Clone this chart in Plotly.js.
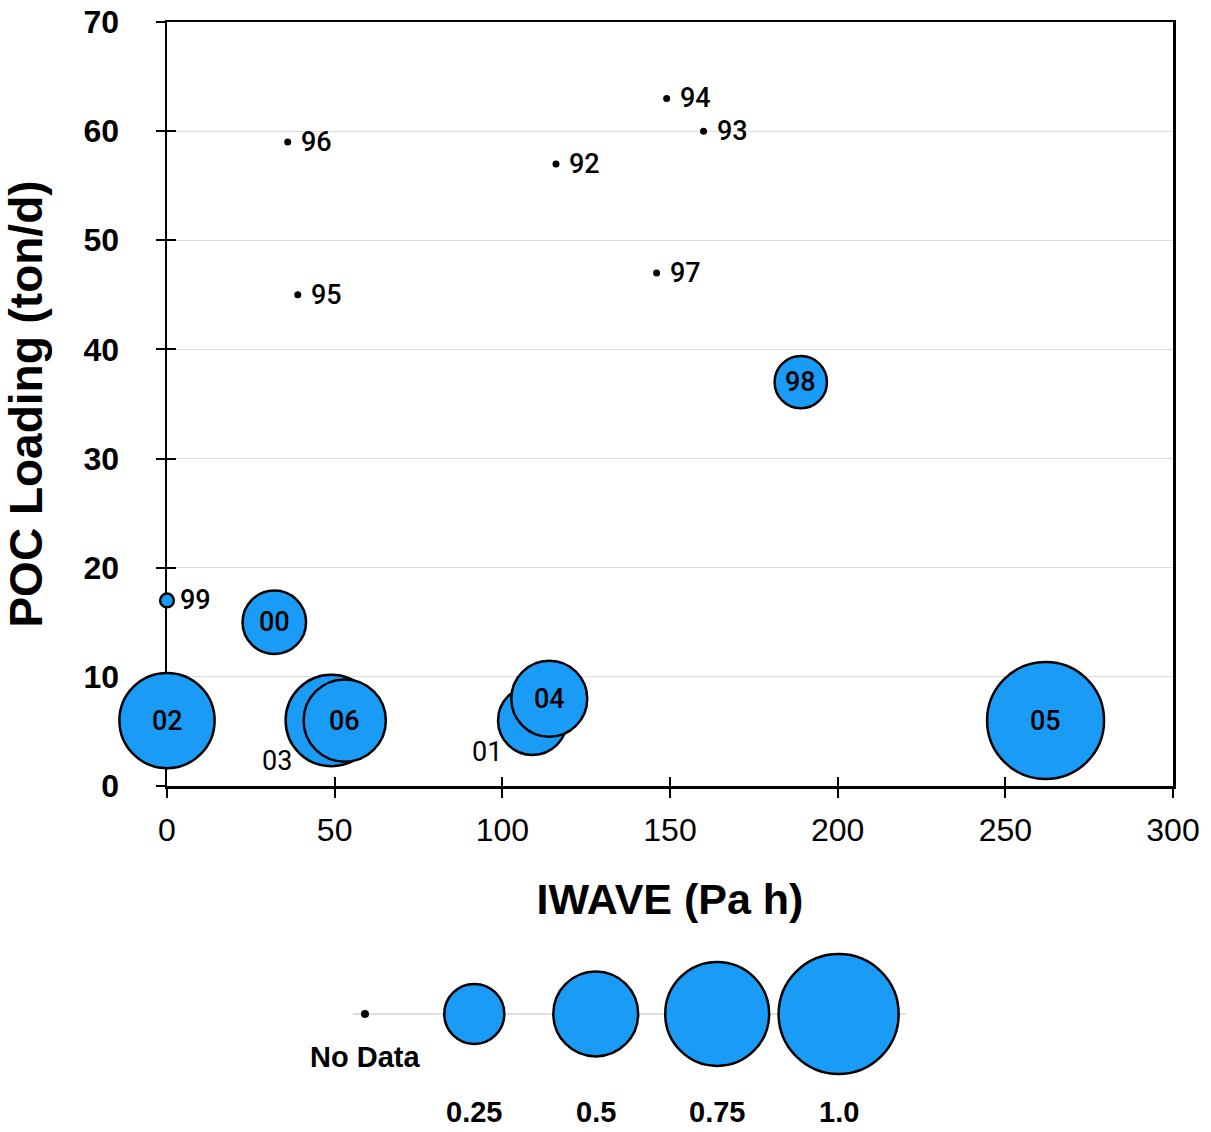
<!DOCTYPE html>
<html>
<head>
<meta charset="utf-8">
<script src="https://cdn.plot.ly/plotly-3.0.1.min.js"></script>
<style>
  html, body { margin: 0; padding: 0; background: #fff; }
  #chart { width: 1211px; height: 1132px; }
</style>
</head>
<body>
<div id="chart"></div>
<script>
// Yearly POC loading against IWAVE; bubble area = fraction (null = no data)
const years = ['92', '93', '94', '95', '96', '97', '98', '99', '00', '01', '02', '03', '04', '05', '06'];
const iwave = [116, 160, 149, 39, 36, 146, 189, 0, 32, 109, 0, 49, 114, 262, 53];
const poc   = [57, 60, 63, 45, 59, 47, 37, 17, 15, 6, 6, 6, 8, 6, 6];
const frac  = [null, null, null, null, null, null, 0.19, 0.013, 0.28, 0.33, 0.63, 0.58, 0.40, 0.95, 0.47];

// Size key
const keyLabels = ['No Data', '0.25', '0.5', '0.75', '1.0'];
const keyValues = [null, 0.25, 0.5, 0.75, 1.0];

// Label placement per year: right of the dot, centred in the bubble,
// or an explicit pixel offset
const labelPlace = {
  '01': { dx: -46, dy: -31, weight: 400 },
  '03': { dx: -54, dy: -40, weight: 400 }
};

const BLUE = '#1a9cf6';
const FONT = 'Liberation Sans, Arial, Helvetica, sans-serif';
const LABEL_FONT = 'Roboto, Liberation Sans, Arial, sans-serif';
const MAX_D = 120;
const sizeref = 2 * 1.0 / (MAX_D * MAX_D);

// split into measured / no-data sets
const nd = { x: [], y: [] }, bub = { x: [], y: [], s: [] };
years.forEach((yr, i) => {
  if (frac[i] === null) { nd.x.push(iwave[i]); nd.y.push(poc[i]); }
  else { bub.x.push(iwave[i]); bub.y.push(poc[i]); bub.s.push(frac[i]); }
});

// key slots along the key axis
const keyX = [0.1, 1, 2, 3, 4];
const keyBub = { x: [], s: [] };
keyValues.forEach((v, i) => { if (v !== null) { keyBub.x.push(keyX[i]); keyBub.s.push(v); } });

const traces = [
  // key guide line
  {
    x: [keyX[0] - 0.1, keyX[keyX.length - 1] + 0.55], y: [0, 0],
    xaxis: 'x2', yaxis: 'y2', mode: 'lines',
    line: { color: '#dedede', width: 2 }, hoverinfo: 'skip', cliponaxis: false
  },
  {
    x: [keyX[0]], y: [0], xaxis: 'x2', yaxis: 'y2', mode: 'markers',
    marker: { size: 8, color: '#000', opacity: 1 }, cliponaxis: false
  },
  {
    x: keyBub.x, y: keyBub.x.map(() => 0), xaxis: 'x2', yaxis: 'y2', mode: 'markers',
    marker: { size: keyBub.s, sizemode: 'area', sizeref: sizeref, color: BLUE, opacity: 1,
              line: { color: '#000', width: 2.5 } },
    cliponaxis: false
  },
  // empty traces so the cross-tick overlay axes are laid out
  { x: [], y: [], xaxis: 'x3', yaxis: 'y', mode: 'markers', hoverinfo: 'skip' },
  { x: [], y: [], xaxis: 'x', yaxis: 'y3', mode: 'markers', hoverinfo: 'skip' },
  // main chart
  {
    x: nd.x, y: nd.y, mode: 'markers',
    marker: { size: 7, color: '#000', opacity: 1 }, cliponaxis: false
  },
  {
    x: bub.x, y: bub.y, mode: 'markers',
    marker: { size: bub.s, sizemode: 'area', sizeref: sizeref, sizemin: 2, color: BLUE, opacity: 1,
              line: { color: '#000', width: 2.5 } },
    cliponaxis: false
  }
];

const annotations = [];
years.forEach((yr, i) => {
  const a = {
    x: iwave[i], y: poc[i], xref: 'x', yref: 'y', text: yr, showarrow: false,
    font: { family: LABEL_FONT, size: 27, color: '#000', weight: 500 }
  };
  if (labelPlace[yr]) {
    a.xshift = labelPlace[yr].dx; a.yshift = labelPlace[yr].dy;
    a.font.weight = labelPlace[yr].weight;
  } else if (frac[i] === null || frac[i] < 0.05) {
    a.xanchor = 'left'; a.xshift = 11;
  }
  annotations.push(a);
});
keyLabels.forEach((lab, i) => {
  annotations.push({
    x: keyX[i], y: 0, xref: 'x2', yref: 'y2', text: lab, showarrow: false,
    yshift: keyValues[i] === null ? -43 : -98,
    font: { family: FONT, size: 29, color: '#000', weight: 'bold' }
  });
});

const axisCommon = {
  showline: true, linecolor: '#000', linewidth: 2.5, mirror: true,
  ticks: 'outside', ticklen: 9, tickwidth: 2, tickcolor: '#000',
  zeroline: false, layer: 'below traces'
};
const crossTicks = {
  ticks: 'inside', ticklen: 9, tickwidth: 2, tickcolor: '#000',
  showticklabels: false, showline: false, showgrid: false, zeroline: false,
  layer: 'below traces'
};

const layout = {
  width: 1211, height: 1132,
  margin: { l: 167, r: 38, t: 22, b: 20 },
  paper_bgcolor: '#fff', plot_bgcolor: 'rgba(0,0,0,0)',
  showlegend: false,
  xaxis: Object.assign({}, axisCommon, {
    domain: [0, 1], anchor: 'y', range: [0, 300], tick0: 0, dtick: 50,
    showgrid: false, ticklabelstandoff: 5,
    tickfont: { family: FONT, size: 32, color: '#000' },
    title: { text: 'IWAVE (Pa h)', standoff: 37,
             font: { family: FONT, size: 43, color: '#000', weight: 'bold' } }
  }),
  yaxis: Object.assign({}, axisCommon, {
    domain: [0.29908, 1], anchor: 'x', range: [0, 70], tick0: 0, dtick: 10,
    showgrid: true, gridcolor: '#dcdcdc', gridwidth: 1, ticklabelstandoff: 30,
    tickfont: { family: FONT, size: 32, color: '#000', weight: 'bold' },
    title: { text: 'POC Loading (ton/d)', standoff: 30,
             font: { family: FONT, size: 46, color: '#000', weight: 'bold' } }
  }),
  xaxis3: Object.assign({}, crossTicks, { overlaying: 'x', anchor: 'y', side: 'bottom', range: [0, 300], tick0: 0, dtick: 50 }),
  yaxis3: Object.assign({}, crossTicks, { overlaying: 'y', anchor: 'x', side: 'left', range: [0, 70], tick0: 0, dtick: 10 }),
  xaxis2: { domain: [0, 1], anchor: 'y2', range: [-1.530, 6.753], visible: false, fixedrange: true },
  yaxis2: { domain: [0.0349, 0.145], anchor: 'x2', range: [-1, 1], visible: false, fixedrange: true },
  annotations: annotations
};

Plotly.newPlot('chart', traces, layout, { staticPlot: true, displayModeBar: false });
</script>
</body>
</html>
